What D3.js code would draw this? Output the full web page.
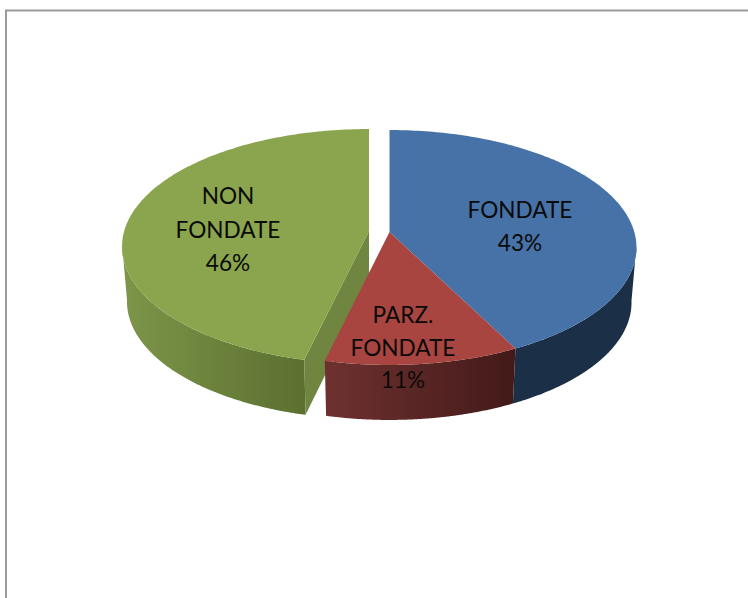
<!DOCTYPE html>
<html>
<head>
<meta charset="utf-8">
<script src="https://d3js.org/d3.v7.min.js"></script>
<style>
html,body{margin:0;padding:0;background:#fff;overflow:hidden}
svg{display:block}
text{font-family:Lato,"Open Sans",sans-serif;font-size:22.6px;fill:#0a0a0a;text-anchor:middle}
</style>
</head>
<body>
<svg id="c" width="748" height="598"></svg>
<script>
const categories = ["FONDATE", "PARZ. FONDATE", "NON FONDATE"];
const values = [42.5, 11.2, 46.3];
const topColors = ["#4672a8", "#a84540", "#8aa54d"];
const wallStops = [["#1b2f47", "#1b2f47"], ["#6e3130", "#431a19"], ["#7d9649", "#5c7030"]];
const labelLines = [["FONDATE"], ["PARZ.", "FONDATE"], ["NON", "FONDATE"]];

const W = 748, H = 598;
const svg = d3.select("#c");
const defs = svg.append("defs");

// perspective projection of the pie's unit circle
const P = 0.132;
const xS = d3.scaleLinear().domain([-1, 1]).range([-244.8, 244.8]);
const yS = d3.scaleLinear().domain([-1, 1]).range([-115.4, 115.4]);
const apex = [389.5, 232];
const depth = 55, taper = 0.98;
const shifts = [[0, 0], [0, 0], [-20.5, -1]];
const labelPos = [[520, 211], [403, 316], [228, 197]];
const lineGap = [33, 32.5, 33.5];

function proj(theta) {
  const u = Math.sin(theta), v = -Math.cos(theta), d = 1 - P * v;
  return [xS(u / d), yS(v / d)];
}
function samples(a0, a1) {
  return d3.range(0, 161).map(i => a0 + (a1 - a0) * i / 160);
}

const pie = d3.pie().sort(null).value(d => d)(values);
const line = d3.line();

// angles of the silhouette: widest points on the right and on the left
const full = samples(0, 2 * Math.PI);
const thetaR = full[d3.greatestIndex(full, t => proj(t)[0])];
const thetaL = full[d3.leastIndex(full, t => proj(t)[0])];

svg.append("rect").attr("x", 0).attr("y", 0).attr("width", W).attr("height", H).attr("fill", "#fff");
svg.append("path").attr("d", `M6 ${H}V10.5H${W}`).attr("fill", "none").attr("stroke", "#9a9a9a").attr("stroke-width", 2);

pie.forEach((s, i) => {
  const g = defs.append("linearGradient").attr("id", "w" + i)
    .attr("gradientUnits", "userSpaceOnUse")
    .attr("x1", [514, 325, 121][i]).attr("x2", [636, 514, 301][i])
    .attr("y1", 0).attr("y2", 0);
  g.append("stop").attr("offset", 0).attr("stop-color", wallStops[i][0]);
  g.append("stop").attr("offset", 1).attr("stop-color", wallStops[i][1]);
});

function drawSlice(i) {
  const s = pie[i];
  const ox = apex[0] + shifts[i][0], oy = apex[1] + shifts[i][1];
  const at = p => [ox + p[0], oy + p[1]];
  const atB = p => [ox + p[0] * taper, oy + p[1] + depth];
  const arc = samples(s.startAngle, s.endAngle).map(proj);
  // outer wall: only the part of the rim that faces the viewer
  const a0 = Math.max(s.startAngle, thetaR), a1 = Math.min(s.endAngle, thetaL);
  const front = samples(a0, a1).map(proj);
  const band = front.map(at).concat(front.slice().reverse().map(atB));
  svg.append("path").attr("d", line(band) + "Z").attr("fill", `url(#w${i})`);
  // inner cut wall of the exploded slice
  if (shifts[i][0] !== 0) {
    const tip = arc[0];
    svg.append("path")
      .attr("d", line([[ox, oy], at(tip), atB(tip), [ox, oy + depth]]) + "Z")
      .attr("fill", "#6f8540");
  }
  // top face
  svg.append("path").attr("d", line([[ox, oy]].concat(arc.map(at))) + "Z").attr("fill", topColors[i]);
}
[2, 0, 1].forEach(drawSlice);

pie.forEach((s, i) => {
  const lines = labelLines[i].concat([Math.round(values[i]) + "%"]);
  const t = svg.append("text");
  lines.forEach((l, k) => {
    t.append("tspan").attr("x", labelPos[i][0]).attr("y", labelPos[i][1] + k * lineGap[i] + 7).text(l);
  });
});
</script>
</body>
</html>
